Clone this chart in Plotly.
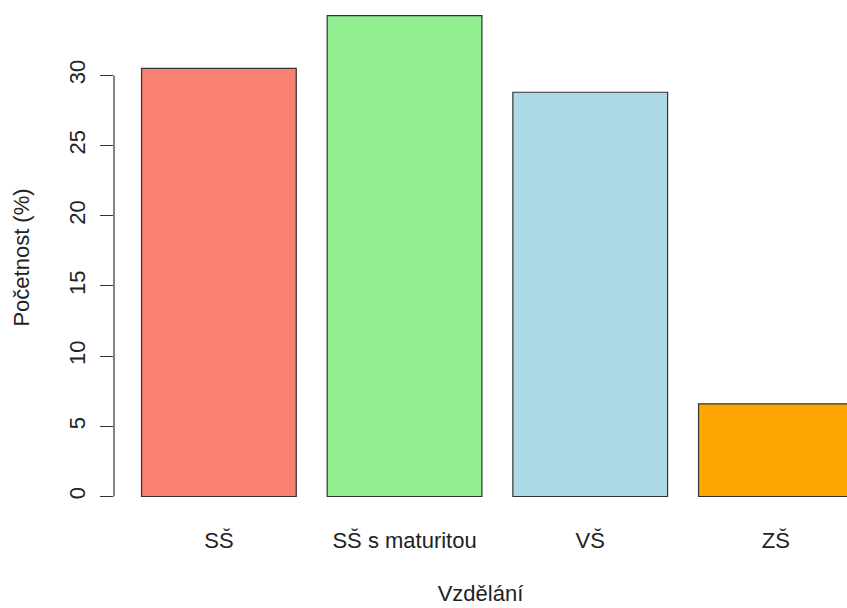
import plotly.graph_objects as go

categories = ["SŠ", "SŠ s maturitou", "VŠ", "ZŠ"]
values = [30.5, 34.25, 28.8, 6.6]
colors = ["#FA8072", "#90EE90", "#ADD8E6", "#FFA500"]
y_ticks = [0, 5, 10, 15, 20, 25, 30]

FONT = "Liberation Sans, Arial, sans-serif"
FS = 22

fig = go.Figure(
    go.Bar(
        x=categories,
        y=values,
        marker=dict(color=colors, line=dict(color="#333333", width=1.2)),
    )
)

fig.update_layout(
    width=847,
    height=608,
    margin=dict(l=114, r=0, t=0, b=93, autoexpand=False),
    paper_bgcolor="white",
    plot_bgcolor="white",
    bargap=1 / 6,
    showlegend=False,
    font=dict(family=FONT, size=FS, color="#222222"),
)

fig.update_xaxes(
    automargin=False,
    range=[-0.565, 3.383],
    showline=False,
    showgrid=False,
    zeroline=False,
    ticks="",
    ticklabelstandoff=10,
    tickfont=dict(size=FS),
    title=dict(text="Vzdělání", font=dict(size=FS), standoff=33),
)

fig.update_yaxes(
    automargin=False,
    range=[-1.317, 35.37],
    tickvals=y_ticks,
    ticktext=[str(v) for v in y_ticks],
    tickangle=-90,
    ticks="outside",
    ticklen=13,
    tickwidth=1.2,
    tickcolor="#333333",
    showline=False,
    showgrid=False,
    zeroline=False,
    ticklabelstandoff=6,
    tickfont=dict(size=FS),
    title=dict(text="Početnost (%)", font=dict(size=FS), standoff=29),
)

# R-style axis line spanning only from first to last tick
fig.add_shape(
    type="line",
    xref="paper", yref="y",
    x0=0, x1=0, y0=y_ticks[0], y1=y_ticks[-1],
    line=dict(color="#333333", width=1.2),
)

fig.write_html(
    "out.html",
    config={"displayModeBar": False},
    post_script="document.body.style.margin='0';",
)
